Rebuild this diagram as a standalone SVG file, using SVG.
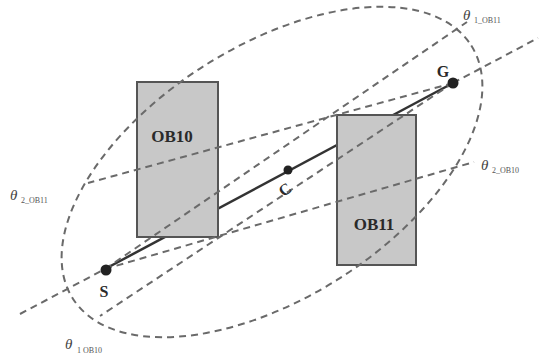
<svg xmlns="http://www.w3.org/2000/svg" width="542" height="360" viewBox="0 0 542 360">
  <style>
    .dash { fill: none; stroke: #6a6a6a; stroke-width: 2; stroke-dasharray: 7 5; }
    .path { fill: none; stroke: #333; stroke-width: 2.5; }
    .obst { fill: #c8c8c8; stroke: #555; stroke-width: 2; }
    .lbl { font-family: "Liberation Serif", "DejaVu Serif", serif; font-weight: bold; fill: #2a2a2a; }
    .ob { font-size: 17px; }
    .pt { font-size: 16px; }
    .theta { font-family: "Liberation Serif", "DejaVu Serif", serif; font-style: italic; font-size: 15px; fill: #444; }
    .sub { font-family: "Liberation Serif", "DejaVu Serif", serif; font-size: 8px; fill: #555; }
    .dot { fill: #222; }
  </style>
  <rect width="542" height="360" fill="#ffffff"/>

  <!-- straight path S to G, partly hidden behind the obstacles -->
  <g id="path-SG">
    <line class="path" x1="105" y1="269" x2="453" y2="83"/>
  </g>

  <!-- obstacles -->
  <g id="OB10">
    <rect class="obst" x="137" y="82" width="81" height="155"/>
    <text class="lbl ob" x="172" y="142" text-anchor="middle">OB10</text>
  </g>
  <g id="OB11">
    <rect class="obst" x="337" y="115" width="79" height="150"/>
    <text class="lbl ob" x="374" y="230" text-anchor="middle">OB11</text>
  </g>

  <!-- search region and tangent lines -->
  <g id="connectors">
    <ellipse class="dash" cx="272" cy="172" rx="236" ry="126" transform="rotate(-32.4 272 172)"/>
    <!-- S-G line extended -->
    <line class="dash" x1="20" y1="314" x2="105" y2="269"/>
    <line class="dash" x1="453" y1="83" x2="538" y2="38"/>
    <!-- from G past OB11 top-left corner -->
    <line class="dash" x1="453" y1="83" x2="88" y2="183"/>
    <!-- from S past OB11 top-left corner -->
    <line class="dash" x1="105" y1="269" x2="467" y2="22"/>
    <!-- from G past OB10 bottom-right corner -->
    <line class="dash" x1="453" y1="83" x2="100" y2="316"/>
    <!-- from S past OB10 bottom-right corner -->
    <line class="dash" x1="105" y1="269" x2="474" y2="162"/>
  </g>

  <!-- points -->
  <g id="S">
    <circle class="dot" cx="106" cy="270" r="5.5"/>
    <text class="lbl pt" x="104" y="297" text-anchor="middle">S</text>
  </g>
  <g id="G">
    <circle class="dot" cx="453" cy="83" r="5.5"/>
    <text class="lbl pt" x="443" y="77" text-anchor="middle">G</text>
  </g>
  <g id="C">
    <circle class="dot" cx="288" cy="170" r="4.5"/>
    <text class="lbl pt" x="0" y="0" text-anchor="middle" transform="translate(288 194) rotate(-35)">C</text>
  </g>

  <!-- angle labels -->
  <g id="theta-1-OB11">
    <text class="theta" x="463" y="20">θ</text>
    <text class="sub" x="474" y="23">1_OB11</text>
  </g>
  <g id="theta-2-OB10">
    <text class="theta" x="481" y="170">θ</text>
    <text class="sub" x="492" y="173">2_OB10</text>
  </g>
  <g id="theta-2-OB11">
    <text class="theta" x="10" y="200">θ</text>
    <text class="sub" x="21" y="203">2_OB11</text>
  </g>
  <g id="theta-1-OB10">
    <text class="theta" x="65" y="349">θ</text>
    <text class="sub" x="77" y="353">1 OB10</text>
  </g>
</svg>
